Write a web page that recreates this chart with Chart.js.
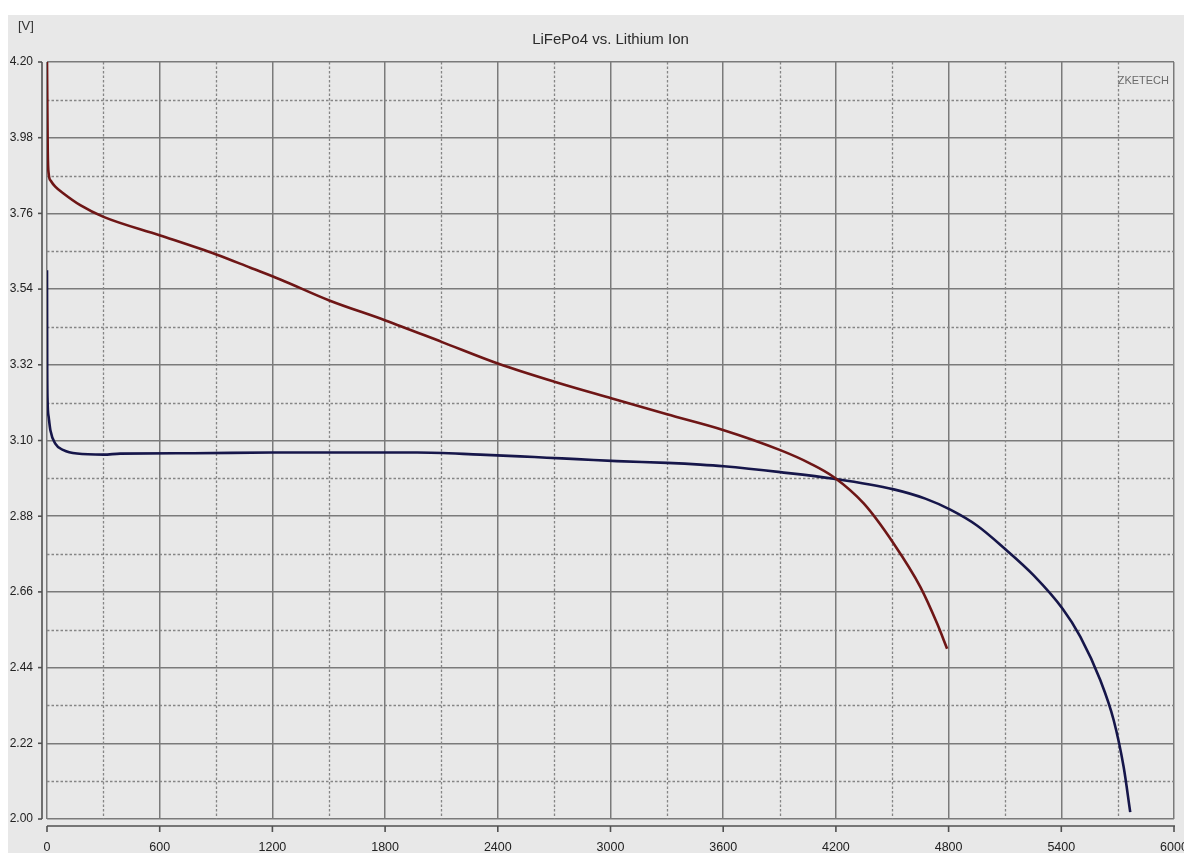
<!DOCTYPE html>
<html>
<head>
<meta charset="utf-8">
<script src="https://cdn.jsdelivr.net/npm/chart.js@4"></script>
<style>
  html, body { margin: 0; padding: 0; background: #ffffff; }
  #wrap { position: absolute; left: 8px; top: 15px; width: 1176px; height: 838px; background: #e8e8e8; }
  canvas { display: block; }
</style>
</head>
<body>
<div id="wrap"><canvas id="c" width="1176" height="838"></canvas></div>
<script>
// Discharge curves: capacity [mAh] against cell voltage [V]
const liIonMah   = [0, 2, 4, 9, 20, 44, 88, 177, 301, 603, 905, 1083, 1242, 1503, 1802, 2104, 2404, 2706, 3008, 3301, 3603, 3904, 4064, 4188, 4348, 4508, 4650, 4739, 4792];
const liIonVolts = [4.20, 4.06, 3.94, 3.875, 3.855, 3.838, 3.818, 3.784, 3.750, 3.696, 3.640, 3.602, 3.568, 3.507, 3.449, 3.386, 3.323, 3.270, 3.222, 3.176, 3.130, 3.072, 3.033, 2.994, 2.917, 2.800, 2.674, 2.568, 2.495];

const lifepoMah   = [0, 1, 3, 9, 18, 44, 88, 160, 301, 390, 781, 1200, 1970, 2306, 2519, 2661, 2821, 3034, 3301, 3478, 3603, 3904, 4188, 4508, 4676, 4809, 4951, 5098, 5253, 5407, 5501, 5608, 5679, 5732, 5767];
const lifepoVolts = [3.595, 3.33, 3.217, 3.168, 3.130, 3.091, 3.072, 3.062, 3.059, 3.062, 3.063, 3.065, 3.065, 3.059, 3.054, 3.050, 3.046, 3.040, 3.035, 3.030, 3.025, 3.008, 2.989, 2.958, 2.931, 2.899, 2.853, 2.786, 2.708, 2.611, 2.530, 2.403, 2.287, 2.151, 2.020];

const xTickLabels = ['0', '600', '1200', '1800', '2400', '3000', '3600', '4200', '4800', '5400', '6000'];
const yTickLabels = ['2.00', '2.22', '2.44', '2.66', '2.88', '3.10', '3.32', '3.54', '3.76', '3.98', '4.20'];

const chartTitle = 'LiFePo4 vs. Lithium Ion';
const unitLabel = '[V]';
const brandLabel = 'ZKETECH';

const FONT = "'Liberation Sans', Arial, sans-serif";

const toPoints = (xs, ys) => xs.map((v, i) => ({ x: v, y: ys[i] }));

// Minor dotted grid, offset axis lines with tick marks, and the header texts
const decorations = {
  id: 'decorations',
  beforeDatasetsDraw(chart) {
    const { ctx, chartArea: a, scales: { x, y } } = chart;
    ctx.save();
    ctx.strokeStyle = '#858585';
    ctx.lineWidth = 1.3;
    ctx.setLineDash([2.5, 2]);
    for (let i = 0; i < x.ticks.length - 1; i++) {
      const px = Math.round(x.getPixelForValue((x.ticks[i].value + x.ticks[i + 1].value) / 2)) + 0.5;
      ctx.beginPath(); ctx.moveTo(px, a.top); ctx.lineTo(px, a.bottom); ctx.stroke();
    }
    for (let i = 0; i < y.ticks.length - 1; i++) {
      const py = Math.round(y.getPixelForValue((y.ticks[i].value + y.ticks[i + 1].value) / 2)) + 0.5;
      ctx.beginPath(); ctx.moveTo(a.left, py); ctx.lineTo(a.right, py); ctx.stroke();
    }
    ctx.restore();
  },
  afterDraw(chart) {
    const { ctx, chartArea: a, scales: { x, y } } = chart;
    ctx.save();
    ctx.strokeStyle = '#505050';
    ctx.lineWidth = 1.6;
    ctx.setLineDash([]);
    // vertical axis line left of the plot
    const ax = a.left - 5;
    ctx.beginPath(); ctx.moveTo(ax, a.top); ctx.lineTo(ax, a.bottom); ctx.stroke();
    y.ticks.forEach(t => {
      const py = y.getPixelForValue(t.value);
      ctx.beginPath(); ctx.moveTo(ax - 4, py); ctx.lineTo(ax, py); ctx.stroke();
    });
    // horizontal axis line below the plot
    const ay = a.bottom + 7;
    ctx.beginPath(); ctx.moveTo(a.left, ay); ctx.lineTo(a.right + 1, ay); ctx.stroke();
    x.ticks.forEach(t => {
      const px = x.getPixelForValue(t.value);
      ctx.beginPath(); ctx.moveTo(px, ay); ctx.lineTo(px, ay + 6); ctx.stroke();
    });
    // title over the plot
    ctx.fillStyle = '#2a2a2a';
    ctx.font = '15px ' + FONT;
    ctx.textAlign = 'center';
    ctx.textBaseline = 'middle';
    ctx.fillText(chartTitle, (a.left + a.right) / 2, 25);
    // unit
    ctx.font = '13px ' + FONT;
    ctx.textAlign = 'left';
    ctx.fillStyle = '#333333';
    ctx.fillText(unitLabel, 10, 11);
    // brand mark
    ctx.font = '11px ' + FONT;
    ctx.textAlign = 'right';
    ctx.fillStyle = '#6a6a6a';
    ctx.fillText(brandLabel, a.right - 5, a.top + 19);
    ctx.restore();
  }
};

new Chart(document.getElementById('c'), {
  type: 'line',
  data: {
    datasets: [
      {
        label: 'Lithium Ion',
        data: toPoints(liIonMah, liIonVolts),
        borderColor: '#6e1616',
        borderWidth: 2.6,
        pointRadius: 0,
        cubicInterpolationMode: 'monotone',
        fill: false
      },
      {
        label: 'LiFePo4',
        data: toPoints(lifepoMah, lifepoVolts),
        borderColor: '#16164a',
        borderWidth: 2.6,
        pointRadius: 0,
        cubicInterpolationMode: 'monotone',
        fill: false
      }
    ]
  },
  options: {
    responsive: false,
    animation: false,
    devicePixelRatio: 1,
    layout: { padding: { top: 47, right: 10, left: 0, bottom: 0 } },
    plugins: {
      legend: { display: false },
      title: { display: false },
      tooltip: { enabled: false }
    },
    scales: {
      x: {
        type: 'linear',
        min: 0,
        max: 6000,
        border: { display: false },
        grid: { color: '#7a7a7a', lineWidth: 1.5, drawTicks: false },
        ticks: {
          stepSize: 600,
          maxRotation: 0,
          autoSkip: false,
          padding: 21,
          color: '#222222',
          font: { family: FONT, size: 12.5 },
          callback: (v, i) => xTickLabels[i]
        },
        afterFit(scale) { scale.height = 34; scale.paddingLeft = 0; scale.paddingRight = 0; }
      },
      y: {
        type: 'linear',
        min: 2.0,
        max: 4.2,
        border: { display: false },
        grid: { color: '#7a7a7a', lineWidth: 1.5, drawTicks: false },
        ticks: {
          stepSize: 0.22,
          autoSkip: false,
          padding: 14,
          color: '#222222',
          font: { family: FONT, size: 12 },
          callback: (v, i) => yTickLabels[i]
        },
        afterFit(scale) { scale.width = 39; scale.paddingTop = 0; scale.paddingBottom = 0; }
      }
    }
  },
  plugins: [decorations]
});
</script>
</body>
</html>
